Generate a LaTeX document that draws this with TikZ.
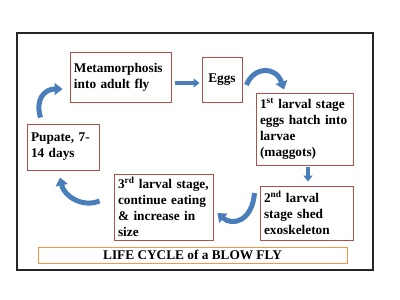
\documentclass[tikz,border=0pt]{standalone}
\usepackage{fontspec}
\setmainfont{Liberation Serif}
\usepackage{xcolor}
\definecolor{stageEdge}{HTML}{B0504D}
\definecolor{titleEdge}{HTML}{F79646}
\definecolor{arrowBlue}{HTML}{4A7EBB}
\usetikzlibrary{arrows.meta}

\begin{document}
\begin{tikzpicture}[
    x=1pt, y=-1pt,
    every node/.style={font=\bfseries\fontsize{13.3}{16}\selectfont},
    stage/.style={draw=stageEdge, line width=0.9pt, align=left,
                inner xsep=4pt, inner ysep=0pt},
    cyc/.style={arrowBlue, line width=5pt, -{Triangle[width=12pt, length=8pt]}},
    flat/.style={arrowBlue, line width=3.5pt, -{Triangle[width=9pt, length=6pt]}}
]
\useasboundingbox (0,0) rectangle (400,300);
% Frame
\draw[line width=1.5pt, black!85] (17,33) rectangle (373,270);
% Stages
\node[stage, text width=93pt, minimum height=50pt] (meta) at (120.5, 77)
    {Metamorphosis\\into adult fly};
\node[stage, align=center, text width=32pt, minimum height=45pt] (eggs) at (222, 79.5)
    {Eggs};
\node[stage, text width=89pt, minimum height=72pt] (first) at (304.5, 129)
    {1\textsuperscript{st} larval stage\\eggs hatch into\\larvae\\(maggots)};
\node[stage, text width=85pt, minimum height=54pt] (second) at (306.5, 213)
    {2\textsuperscript{nd} larval\\stage shed\\exoskeleton};
\node[stage, text width=91pt, minimum height=66pt] (third) at (163.5, 207)
    {3\textsuperscript{rd} larval stage,\\continue eating\\\& increase in\\size};
\node[stage, text width=64pt, minimum height=46pt] (pupa) at (63, 147)
    {Pupate, 7-\\14 days};
% Title
\node[draw=titleEdge, line width=0.9pt, minimum width=309pt, minimum height=16pt,
      inner sep=0pt] (title) at (192.5, 255) {LIFE CYCLE of a BLOW FLY};
% Arrows
\draw[flat] ([xshift=4pt, yshift=-6pt]meta.east) -- ([xshift=-2pt, yshift=-3.5pt]eggs.west);
\draw[cyc] ([xshift=4pt, yshift=-5.5pt]eggs.east) .. controls (254,66) and (276,66)
    .. ([xshift=-20.5pt, yshift=3pt]first.north);
\draw[flat] ([xshift=3.5pt, yshift=-2pt]first.south) -- ([xshift=1.5pt, yshift=4pt]second.north);
\draw[cyc] ([xshift=-5pt, yshift=20pt]second.west) .. controls (252,222) and (232,226)
    .. ([xshift=4pt, yshift=-6pt]third.east);
\draw[cyc] ([xshift=-14pt, yshift=6pt]third.west) .. controls (82,208) and (64,196)
    .. ([xshift=-3pt, yshift=-7pt]pupa.south);
\draw[cyc] ([xshift=14pt, yshift=6pt]pupa.north west) .. controls (35,100) and (44,89)
    .. ([xshift=-7pt, yshift=-12pt]meta.west);
\end{tikzpicture}
\end{document}
